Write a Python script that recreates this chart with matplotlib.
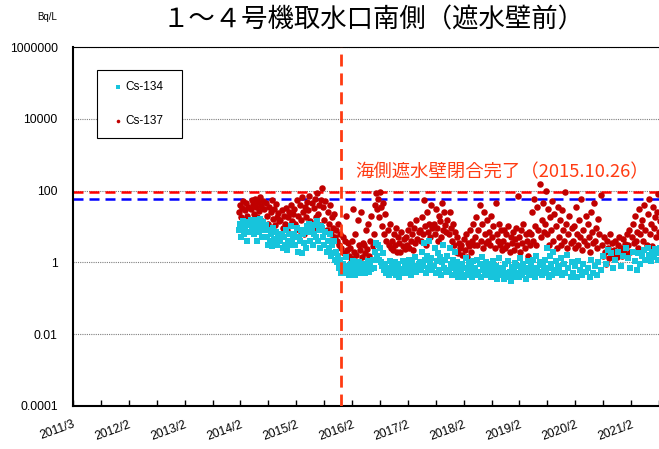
import matplotlib
matplotlib.use('Agg')
import matplotlib.dates as mdates
import matplotlib.pyplot as plt
import numpy as np
import pandas as pd
from matplotlib.patches import Rectangle
from matplotlib.ticker import NullLocator

nan = np.nan

# weekly samples starting on this date (Bq/L)
SAMPLE_START = '2014-02-17'

cs137 = [
    25, 40, 18, 33, 50, 15, 28, 45, 20, 36, 12, 30, 55,
    42, 22, 60, 35, 18, 48, 27, 65, 38, 14, 52, 30, 45,
    20, 12, 35, 9, 25, 55, 16, 30, 11, 42, 18, 24, 14,
    15, 28, 9, 20, 12, 33, 8, 18, 25, 11, 40, 14, 22,
    30, 12, 55, 20, 8, 40, 15, 65, 25, 6, 35, 18, 48,
    28, 70, 14, 45, 9, 33, 60, 18, 85, 22, 40, 11, 55,
    120, 35, 15, 50, 8, 25, 12, 40, 6, 18, 9, 22, 5,
    8, 4, 12, 3, 6, 2.5, 5, 1.8, 4, 20, 2.2, 3.5, 1.5,
    2.5, 1.3, 4, 30, 2, 6, 1.6, 15, 3, 2.2, 25, 1.4, 3.5,
    3, 1.8, 8, 2.4, 12, 1.5, 4, 20, 2.8, 6, 40, 85, 30,
    60, 18, 90, 35, 10, 45, 6, 22, 4, 8, 3, 12, 2.5,
    4, 2.2, 6, 3, 9, 2, 5, 3.5, 1.9, 7, 2.8, 4.5, 2.4,
    5, 3, 8, 2.5, 12, 4, 6, 2.2, 9, 3.5, 15, 4.5, 7,
    8, 4, 18, 6, 55, 10, 3, 25, 7, 12, 5, 40, 9,
    12, 6, 30, 9, 4, 20, 14, 5, 45, 8, 25, 11, 7,
    15, 6, 25, 9, 4, 12, 3, 7, 2, 5, 1.8, 3.5, 2.5,
    3, 1.6, 4.5, 2.2, 6, 1.4, 3.5, 2.8, 8, 2, 4, 12, 3,
    5, 18, 3, 8, 40, 4, 12, 2.5, 25, 6, 3.5, 15, 4,
    7, 3, 20, 5, 10, 2.5, 45, 6, 4, 12, 3, 8, 2.2,
    4, 8, 2.5, 6, 3, 10, 2, 5, 3.5, 7, 2.2, 4.5, 9,
    3, 70, 5, 2, 8, 3.5, 12, 2.5, 6, 4, 1.5, 7, 3,
    6, 25, 4, 60, 10, 3, 35, 8, 150, 5, 15, 45, 7,
    12, 95, 6, 30, 3, 18, 8, 50, 4, 22, 10, 2.5, 35,
    5, 15, 3, 28, 8, 4, 90, 12, 2.5, 6, 20, 3.5, 9,
    4, 10, 2.5, 35, 6, 3, 15, 5, 60, 2.2, 8, 4, 20,
    3, 12, 5, 2, 25, 7, 3.5, 45, 4, 9, 2.5, 16, 6,
    75, 3, 1.5, 5, 2, 0.9, 4, 2.5, 1.3, 6, 2, 3.5, 1.6,
    2.2, 4, 1.4, 3, 5, 1.8, 2.6, 1.5, 4.5, 2, 3.2, 1.6, 6,
    3, 8, 2, 5, 12, 3.5, 20, 4, 7, 2.5, 30, 6, 10,
    15, 4, 40, 8, 3, 22, 60, 6, 12, 2.8, 35, 9, 18,
    5, 25, 80, 7, 14, 3.5,
]

cs134 = [
    8, 12, 5, 10, 14, 6, 9, 13, 4, 11, 7, 15, 9,
    10, 6, 15, 8, 4, 12, 7, 16, 9, 5, 13, 8, 11,
    5, 3, 8, 4, 6, 2.8, 9, 4.5, 3.5, 7, 3, 5.5, 4,
    4, 6, 2.5, 5, 3, 8, 2.2, 4, 6, 3, 10, 3.5, 5,
    6, 3, 9, 2, 5, 4, 8, 1.8, 6, 3.5, 7, 2.5, 10,
    7, 12, 4, 9, 3, 6, 11, 5, 14, 4, 8, 2.5, 10,
    9, 5, 3, 7, 2, 4, 2.5, 6, 1.5, 3, 1.8, 4, 1.2,
    2, 1, 1.5, 0.7, 1.2, 0.5, 0.9, 0.6, 0.8, 1.4, 0.5, 0.7, 0.45,
    0.6, 0.9, 0.5, 1.1, 0.7, 0.45, 0.8, 0.6, 1.0, 0.5, 0.75, 0.55, 0.9,
    0.7, 0.5, 0.9, 0.6, 1.1, 0.55, 0.8, 0.65, 1.2, 0.7, 2, 3.5, 1.5,
    3, 1.2, 2.5, 1, 0.8, 1.8, 0.6, 0.9, 0.5, 0.7, 0.45, 1.1, 0.6,
    0.8, 0.5, 0.6, 1.0, 0.45, 0.7, 0.9, 0.4, 0.65, 0.55, 1.1, 0.5, 0.75,
    0.6, 0.9, 0.5, 1.2, 0.7, 0.45, 1.0, 0.6, 0.8, 1.4, 0.55, 0.7, 0.9,
    1.0, 0.6, 2, 0.8, 3.5, 1.2, 0.5, 1.5, 0.7, 4, 0.9, 1.3, 0.6,
    0.8, 2.5, 0.5, 1.1, 1.8, 0.6, 1.4, 0.45, 1.0, 3, 0.7, 1.2, 0.55,
    1.5, 0.6, 2.5, 0.9, 0.45, 1.2, 0.7, 2, 0.5, 1.0, 0.4, 0.8, 0.6,
    0.5, 0.9, 0.4, 0.7, 1.3, 0.45, 0.6, 1.0, 0.5, 0.8, 0.4, 1.1, 0.55,
    0.7, 0.45, 1.2, 0.55, 0.9, 0.4, 1.4, 0.6, 0.8, 0.5, 1.0, 0.45, 0.7,
    0.5, 0.9, 0.4, 0.65, 1.1, 0.5, 0.8, 0.35, 0.6, 1.3, 0.45, 0.7, 0.55,
    0.6, 0.35, 0.9, 0.5, 0.4, 1.1, 0.55, 0.3, 0.75, 0.45, 0.6, 0.95, 0.4,
    0.5, 0.8, 0.4, 1.3, 0.6, 0.45, 0.9, 0.55, 0.35, 0.7, 1.1, 0.5, 0.65,
    0.8, 0.45, 1.2, 0.6, 0.4, 1.5, 0.7, 0.5, 1.0, 0.55, 0.45, 0.85, 0.6,
    1.2, 0.5, 2.5, 0.7, 0.4, 1.5, 0.9, 0.45, 2, 0.6, 1.1, 0.5, 0.8,
    0.6, nan, 1.3, 0.45, nan, 0.9, 0.5, nan, 1.6, 0.7, nan, 0.4, 1.0,
    0.5, nan, 0.8, nan, 0.4, 1.1, nan, 0.6, nan, 0.45, 0.9, nan, 0.55,
    nan, 0.7, nan, 0.4, 1.2, nan, 0.5, nan, 0.8, nan, 0.45, 1.0, nan,
    0.6, nan, 1.5, nan, nan, 0.9, nan, 2.2, nan, nan, 1.8, nan, 0.7,
    nan, 1.2, nan, 2, nan, nan, 0.8, nan, 1.5, nan, nan, 2.5, nan,
    1.3, nan, 0.7, nan, 2, nan, 1.1, nan, 0.6, 1.8, nan, 0.9, nan,
    1.5, nan, 2.2, 1.2, nan, 2.6, 1.6, nan, 1.1, 2, nan, 1.4, 2.4,
    nan, 1.8, 1.2, nan, 2.5, 1.5,
]

limit_cs137 = 90
limit_cs134 = 60

title = '１～４号機取水口南側（遮水壁前）'
wall_label = '海側遮水壁閉合完了（2015.10.26）'
wall_line_date = '2015-12-17'  # where the marker line sits on the original

axis_start = '2011-03-01'
axis_end = '2021-08-14'
y_ticks = [1e-4, 1e-2, 1, 1e2, 1e4, 1e6]
y_ticklabels = ['0.0001', '0.01', '1', '100', '10000', '1000000']

C137 = '#C00000'
C134 = '#17C4DC'
ORANGE = '#FF3B12'

plt.rcParams['font.family'] = ['Liberation Sans', 'DejaVu Sans']
JP = ['Noto Sans CJK JP', 'DejaVu Sans']

W, H = 659, 449
fig = plt.figure(figsize=(W / 100, H / 100), dpi=100)
ax = fig.add_axes([73 / W, 43 / H, 1 - 73 / W, 359 / H])

dates = pd.date_range(SAMPLE_START, periods=len(cs137), freq='7D')
h137 = ax.scatter(dates, cs137, s=22, marker='o', color=C137,
                  linewidths=0, zorder=3)
h134 = ax.scatter(dates, cs134, s=17, marker='s', color=C134,
                  linewidths=0, zorder=4)

ax.axhline(limit_cs137, color='#FF0000', lw=1.8,
           linestyle=(0, (4, 2.4)), zorder=2)
ax.axhline(limit_cs134, color='#0000FF', lw=1.8,
           linestyle=(0, (4, 2.4)), zorder=2)
ax.axvline(pd.Timestamp(wall_line_date), color=ORANGE, lw=2,
           linestyle=(0, (4.3, 2.5)), zorder=5)

ax.set_yscale('log')
ax.set_ylim(y_ticks[0], y_ticks[-1])
ax.set_yticks(y_ticks)
ax.set_yticklabels(y_ticklabels)
ax.yaxis.set_minor_locator(NullLocator())
ax.tick_params(axis='y', length=0, pad=11, labelsize=8.7)
ax.grid(axis='y', which='major', color='#7f7f7f',
        linestyle=(0, (1, 1)), linewidth=0.8)

ax.set_xlim(pd.Timestamp(axis_start), pd.Timestamp(axis_end))
start = mdates.date2num(pd.Timestamp(axis_start))
ticks = start + np.arange(0, 22) * 182.5
major = ticks[::2]
ax.set_xticks(major)
ax.set_xticks(ticks[1::2], minor=True)
labels = []
for t in major:
    d = mdates.num2date(t)
    labels.append(f'{d.year}/{d.month}')
ax.set_xticklabels(labels, rotation=20, ha='right', va='top',
                   rotation_mode='anchor')
ax.tick_params(axis='x', which='both', direction='in', length=4,
               width=1, labelsize=8.7, pad=9)

for side in ('left', 'bottom'):
    ax.spines[side].set_linewidth(1.5)
ax.spines['top'].set_linewidth(0.8)
ax.spines['right'].set_visible(False)

# legend box
ax.add_patch(Rectangle((97 / W, 1 - 138 / H), 85 / W, 68 / H,
                       transform=fig.transFigure, facecolor='white',
                       edgecolor='black', lw=0.8, zorder=6))
leg = ax.legend([h134, h137], ['Cs-134', 'Cs-137'], loc='upper left',
                bbox_to_anchor=(114.5 / W, 1 - 81 / H),
                bbox_transform=fig.transFigure, frameon=False,
                fontsize=8.5, labelspacing=1.9, borderpad=0,
                borderaxespad=0, handlelength=0.6, handletextpad=0.3,
                markerscale=0.55)
leg.set_zorder(7)

fig.text(373.5 / W, 1 - 20 / H, title, fontsize=19, family=JP,
         ha='center', va='center')
fig.text(355 / W, 1 - 172 / H, wall_label, fontsize=13.2, family=JP,
         color=ORANGE, ha='left', va='center')
fig.text(47 / W, 1 - 17 / H, 'Bq/L', fontsize=7, ha='center',
         va='center')

fig.savefig('out.png', dpi=100)
